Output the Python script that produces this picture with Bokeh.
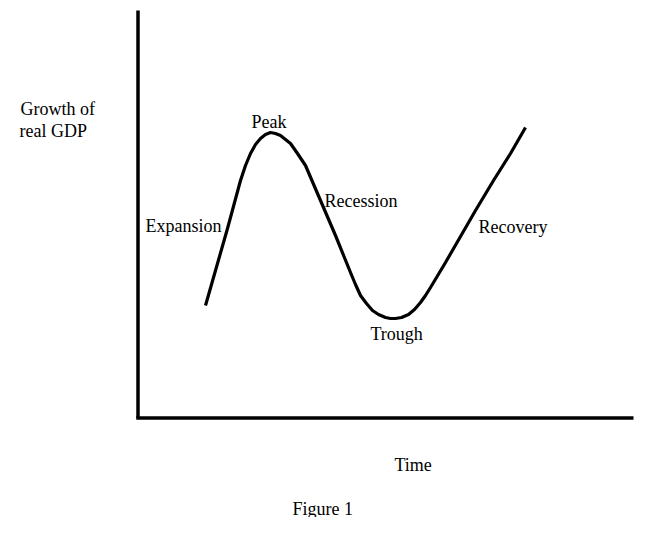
from bokeh.plotting import figure
from bokeh.models import Range1d
from bokeh.core.properties import value
from bokeh.embed import file_html
from bokeh.resources import INLINE

# Business-cycle curve (time vs. growth of real GDP, schematic units)
time = [205, 215, 227, 240, 245, 250, 255, 260, 265, 270, 275, 280, 285, 290,
        297, 305, 320, 335, 350, 355, 360, 366, 372, 378, 385, 390, 395, 401,
        408, 414, 420, 425, 430, 445, 460, 475, 493, 510, 525]
gdp = [228, 263, 305, 353, 368, 380, 389, 395, 399, 401, 400, 398, 394, 390,
       380, 368, 333, 298, 261, 249, 238, 230, 223, 219, 216, 215, 215, 216,
       219, 224, 231, 238, 246, 271, 297, 323, 353, 380, 406]

# Axis extents
x_axis_start, x_axis_end = 137.5, 633
y_axis_bottom, y_axis_top = 115.5, 523

# Labels
phase_labels = ["Peak", "Expansion", "Recession", "Trough", "Recovery"]
phase_x = [251, 145, 324, 370, 478]
phase_y = [412, 308, 333, 200, 307]

ylab_lines = ["Growth of", "real GDP"]
ylab_x = [20, 19]
ylab_y = [425, 403]

xlab = ["Time"]
xlab_x = [394]
xlab_y = [69]

caption = ["Figure 1"]
cap_x = [292]
cap_y = [25]

p = figure(width=645, height=517, output_backend="svg", toolbar_location=None,
           x_range=Range1d(0, 645), y_range=Range1d(16, 533),
           min_border=0, min_border_left=0, min_border_right=0,
           min_border_top=0, min_border_bottom=0)
p.axis.visible = False
p.grid.visible = False
p.outline_line_color = None
p.background_fill_color = "white"
p.border_fill_color = "white"

# Axes lines
p.line([x_axis_start, x_axis_start], [y_axis_top, y_axis_bottom],
       line_color="black", line_width=3.5)
p.line([x_axis_start - 1.75, x_axis_end], [y_axis_bottom, y_axis_bottom],
       line_color="black", line_width=3.5)

# Curve
p.line(time, gdp, line_color="black", line_width=3.2, line_join="round", line_cap="butt")

font = value("Liberation Serif")
for labels, xs, ys in [(phase_labels, phase_x, phase_y),
                       (ylab_lines, ylab_x, ylab_y),
                       (xlab, xlab_x, xlab_y),
                       (caption, cap_x, cap_y)]:
    p.text(x=xs, y=ys, text=labels, text_font=font, text_font_size="18px",
           text_color="black", text_align="left", text_baseline="alphabetic")

open("out.html", "w").write(file_html(p, INLINE))
